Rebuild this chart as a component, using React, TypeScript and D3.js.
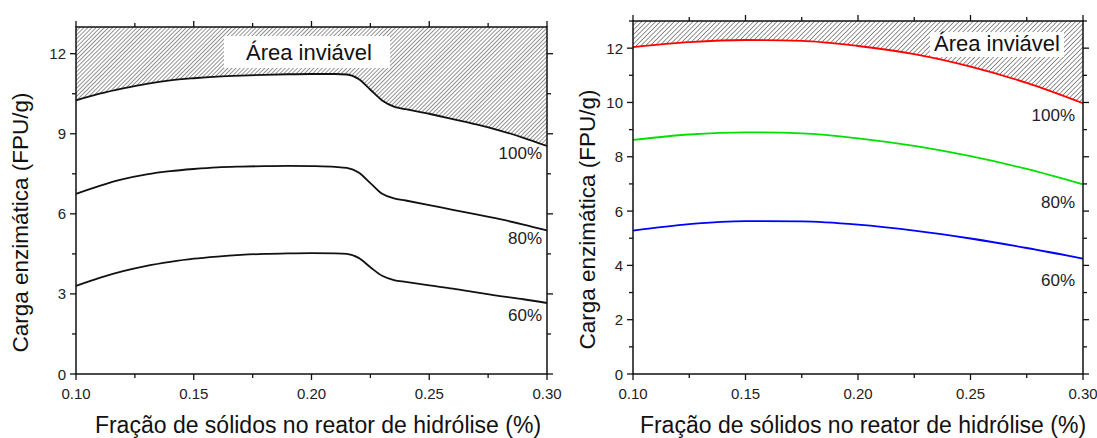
import React from "react";
import * as d3 from "d3";

// ---- Data ----
const leftX = [0.10, 0.11, 0.12, 0.13, 0.14, 0.15, 0.16, 0.17, 0.18, 0.19, 0.20, 0.21, 0.215, 0.22, 0.225, 0.23, 0.235, 0.24, 0.25, 0.26, 0.27, 0.28, 0.29, 0.30];
const left100 = [10.25, 10.5, 10.7, 10.87, 11.0, 11.08, 11.14, 11.18, 11.21, 11.23, 11.24, 11.24, 11.22, 11.05, 10.65, 10.25, 10.02, 9.92, 9.75, 9.55, 9.35, 9.12, 8.85, 8.54];
const left80 = [6.75, 7.05, 7.3, 7.48, 7.6, 7.68, 7.74, 7.77, 7.79, 7.8, 7.79, 7.76, 7.72, 7.55, 7.15, 6.75, 6.58, 6.5, 6.33, 6.15, 5.98, 5.8, 5.6, 5.38];
const left60 = [3.3, 3.6, 3.85, 4.05, 4.2, 4.32, 4.4, 4.46, 4.5, 4.52, 4.53, 4.52, 4.5, 4.35, 4.0, 3.68, 3.52, 3.45, 3.32, 3.2, 3.06, 2.92, 2.8, 2.66];

const rightX = [0.10, 0.125, 0.15, 0.175, 0.20, 0.225, 0.25, 0.275, 0.30];
const right100 = [12.04, 12.22, 12.3, 12.27, 12.08, 11.78, 11.32, 10.72, 9.97];
const right80 = [8.62, 8.82, 8.9, 8.86, 8.68, 8.4, 8.02, 7.55, 6.98];
const right60 = [5.28, 5.52, 5.63, 5.62, 5.5, 5.28, 4.99, 4.64, 4.25];

const leftYTicks = [0, 3, 6, 9, 12];
const rightYTicks = [0, 2, 4, 6, 8, 10, 12];
const xTicks = [0.10, 0.15, 0.20, 0.25, 0.30];
const seriesLabels = ["100%", "80%", "60%"];
const yTitle = "Carga enzimática (FPU/g)";
const xTitle = "Fração de sólidos no reator de hidrólise (%)";
const hatchLabel = "Área inviável";

type PanelProps = {
  id: string;
  x0: number; x1: number; yTop: number; yBottom: number;
  xs: number[];
  series: number[][];
  colors: string[];
  yTicks: number[];
  yMinorStep: number;
  labelPos: { x: number; y: number }[];
  box: { x: number; y: number; w: number; h: number; tx: number; ty: number };
  yTitleX: number;
  xTitleX: number;
  hatchSpacing: number;
  curve: any;
};

function Panel(p: PanelProps) {
  const x = d3.scaleLinear().domain([0.1, 0.3]).range([p.x0, p.x1]);
  const y = d3.scaleLinear().domain([0, 13]).range([p.yBottom, p.yTop]);
  const pts = (vals: number[]) => p.xs.map((xv, i) => [xv, vals[i]] as [number, number]);
  const line = d3.line<[number, number]>().x(d => x(d[0])).y(d => y(d[1])).curve(p.curve);
  const area = d3.area<[number, number]>().x(d => x(d[0])).y0(() => y(13)).y1(d => y(d[1])).curve(p.curve);
  const minorX = d3.range(0, 9).map(i => 0.1 + i * 0.025);
  const minorY: number[] = [];
  for (let v = 0; v <= 13.0001; v += p.yMinorStep) minorY.push(v);
  const font = "Arial, 'Liberation Sans', sans-serif";
  const ax = "#111";
  return (
    <g>
      <defs>
        <pattern id={"hatch" + p.id} patternUnits="userSpaceOnUse" width={p.hatchSpacing} height={p.hatchSpacing} patternTransform="rotate(45)">
          <line x1={0} y1={0} x2={0} y2={p.hatchSpacing} stroke="#3a3a3a" strokeWidth={1.1} />
        </pattern>
        <clipPath id={"clip" + p.id}>
          <rect x={p.x0} y={p.yTop} width={p.x1 - p.x0} height={p.yBottom - p.yTop} />
        </clipPath>
      </defs>
      <g clipPath={`url(#clip${p.id})`}>
        <path d={area(pts(p.series[0])) || ""} fill={`url(#hatch${p.id})`} />
      </g>
      <rect x={p.box.x} y={p.box.y} width={p.box.w} height={p.box.h} fill="#fff" />
      <text x={p.box.tx} y={p.box.ty} fontFamily={font} fontSize={22} fill="#111">{hatchLabel}</text>
      {p.series.map((s, i) => (
        <path key={i} d={line(pts(s)) || ""} fill="none" stroke={p.colors[i]} strokeWidth={1.8} />
      ))}
      <rect x={p.x0} y={p.yTop} width={p.x1 - p.x0} height={p.yBottom - p.yTop} fill="none" stroke={ax} strokeWidth={1.5} />
      {minorX.map((v, i) => {
        const major = i % 2 === 0;
        const len = major ? 6 : 4;
        return (
          <g key={"xt" + i}>
            <line x1={x(v)} x2={x(v)} y1={p.yBottom} y2={p.yBottom + len} stroke={ax} strokeWidth={1.3} />
            <line x1={x(v)} x2={x(v)} y1={p.yTop} y2={p.yTop - len} stroke={ax} strokeWidth={1.3} />
          </g>
        );
      })}
      {xTicks.map((v, i) => (
        <text key={"xl" + i} x={x(v)} y={p.yBottom + 25} textAnchor="middle" fontFamily={font} fontSize={15} fill="#222">{v.toFixed(2)}</text>
      ))}
      {minorY.map((v, i) => {
        const major = p.yTicks.some(t => Math.abs(t - v) < 1e-6);
        const len = major ? 6 : 4;
        return (
          <g key={"yt" + i}>
            <line x1={p.x0} x2={p.x0 - len} y1={y(v)} y2={y(v)} stroke={ax} strokeWidth={1.3} />
            <line x1={p.x1} x2={p.x1 + len} y1={y(v)} y2={y(v)} stroke={ax} strokeWidth={1.3} />
          </g>
        );
      })}
      {p.yTicks.map((v, i) => (
        <text key={"yl" + i} x={p.x0 - 10} y={y(v) + 5.5} textAnchor="end" fontFamily={font} fontSize={15} fill="#222">{v}</text>
      ))}
      {seriesLabels.map((t, i) => (
        <text key={"sl" + i} x={p.labelPos[i].x} y={p.labelPos[i].y} textAnchor="end" fontFamily={font} fontSize={17} fill="#222">{t}</text>
      ))}
      <text transform={`translate(${p.yTitleX},${(p.yTop + p.yBottom) / 2 + 22}) rotate(-90)`} textAnchor="middle" fontFamily={font} fontSize={22.5} fill="#111">{yTitle}</text>
      <text x={p.xTitleX} y={433} textAnchor="middle" fontFamily={font} fontSize={23} fill="#111">{xTitle}</text>
    </g>
  );
}

export default function App() {
  return (
    <svg width={1097} height={438} style={{ position: "absolute", left: 0, top: 0, background: "#fff" }}>
      <rect width={1097} height={438} fill="#fff" />
      <Panel
        id="L"
        x0={76} x1={547} yTop={27} yBottom={374}
        xs={leftX}
        series={[left100, left80, left60]}
        colors={["#111", "#111", "#111"]}
        yTicks={leftYTicks}
        yMinorStep={1.5}
        labelPos={[{ x: 542, y: 159 }, { x: 542, y: 244 }, { x: 542, y: 321 }]}
        box={{ x: 224, y: 36, w: 166, h: 32, tx: 246, ty: 60 }}
        yTitleX={28}
        xTitleX={318}
        hatchSpacing={2.9}
        curve={d3.curveMonotoneX}
      />
      <Panel
        id="R"
        x0={633} x1={1083} yTop={21} yBottom={374}
        xs={rightX}
        series={[right100, right80, right60]}
        colors={["#ff0000", "#00e000", "#0000ff"]}
        yTicks={rightYTicks}
        yMinorStep={1}
        labelPos={[{ x: 1075, y: 121 }, { x: 1075, y: 208 }, { x: 1075, y: 286 }]}
        box={{ x: 930, y: 32, w: 134, h: 25, tx: 934, ty: 51 }}
        yTitleX={595}
        xTitleX={863}
        hatchSpacing={3.3}
        curve={d3.curveMonotoneX}
      />
    </svg>
  );
}
